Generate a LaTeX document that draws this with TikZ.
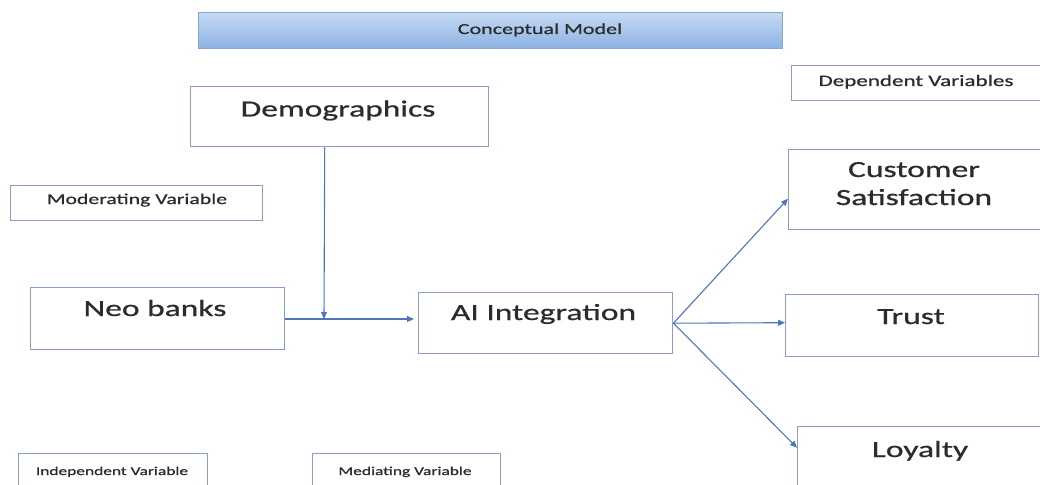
\documentclass[tikz,border=0pt]{standalone}
\usepackage{fontspec}
\setmainfont{Carlito}[FakeStretch=1.45,FakeBold=0.8]
\usetikzlibrary{arrows.meta}
\definecolor{boxline}{HTML}{8E9CC8}
\definecolor{arrowblue}{HTML}{4F74C0}
\definecolor{ink}{HTML}{2C2C2C}
\definecolor{bartop}{HTML}{C6DAF3}
\definecolor{barmid}{HTML}{A9C6EC}
\definecolor{barbot}{HTML}{8DB2E2}
\tikzset{
  box/.style={draw=boxline, line width=1.4pt, fill=white, rectangle, inner sep=0pt, anchor=north west},
  bigtext/.style={inner sep=0pt, anchor=base, text=ink, font=\fontsize{23.1}{28}\selectfont, align=center},
  smalltext/.style={inner sep=0pt, anchor=base, text=ink, font=\fontsize{15}{18}\selectfont},
  tinytext/.style={inner sep=0pt, anchor=base, text=ink, font=\fontsize{12}{14}\selectfont},
  arr/.style={draw=arrowblue, line width=1.1pt, -{Triangle[length=7pt,width=6pt]}},
}
\begin{document}
\begin{tikzpicture}[x=1pt,y=-1pt]
\useasboundingbox (0,0) rectangle (1040,484);
\clip (0,0) rectangle (1040,484);

% title bar
\node[anchor=north west, minimum width=584pt, minimum height=36pt, inner sep=0pt,
      top color=bartop, bottom color=barbot, middle color=barmid, draw=barbot!80!gray, line width=0.8pt]
      (title) at (198,12) {};
\node[inner sep=0pt, anchor=base, text=ink, font=\fontsize{15.2}{18}\selectfont] (titletext) at (540,34) {Conceptual Model};

% legend boxes
\node[box, minimum width=260pt, minimum height=35pt] (depbox) at (791,65) {};
\node[inner sep=0pt, anchor=base, text=ink, font=\fontsize{15.9}{18}\selectfont] (deptext) at (916,86) {Dependent Variables};

\node[box, minimum width=252pt, minimum height=35pt] (modbox) at (10,185) {};
\node[smalltext] (modtext) at (137,204) {Moderating Variable};

\node[box, minimum width=189pt, minimum height=40pt] (indbox) at (18,453) {};
\node[tinytext] (indtext) at (112,475) {Independent Variable};

\node[box, minimum width=188pt, minimum height=40pt] (medbox) at (312,453) {};
\node[tinytext] (medtext) at (405,475) {Mediating Variable};

% variable boxes
\node[box, minimum width=298pt, minimum height=60pt] (demo) at (190,86) {};
\node[bigtext] (demotext) at (338,116.5) {Demographics};

\node[box, minimum width=254pt, minimum height=62pt] (neo) at (30,287) {};
\node[bigtext] (neotext) at (155,316) {Neo banks};

\node[box, minimum width=254pt, minimum height=61pt] (ai) at (418,292) {};
\node[bigtext] (aitext) at (543.5,320) {AI Integration};

\node[box, minimum width=270pt, minimum height=80pt] (cs) at (788,149) {};
\node[bigtext] (cstext) at (914,205) {Customer\\Satisfaction};

\node[box, minimum width=253pt, minimum height=62pt] (trust) at (785,294) {};
\node[bigtext] (trusttext) at (911,324) {Trust};

\node[box, minimum width=260pt, minimum height=62pt] (loyal) at (797,426) {};
\node[bigtext] (loyaltext) at (920,457) {Loyalty};

% connectors
\coordinate (join) at (324,319);
\draw[arr] ([xshift=-15pt]demo.south) -- (join);
\draw[arr, shorten >=4pt] (neo.east |- join) -- (ai.west |- join);
\coordinate (fan) at (ai.east);
\draw[arr] (fan) -- ([yshift=-9pt]cs.west);
\draw[arr] (fan) -- ([yshift=3pt]trust.west);
\draw[arr] (fan) -- ([yshift=10pt]loyal.west);
\end{tikzpicture}
\end{document}
